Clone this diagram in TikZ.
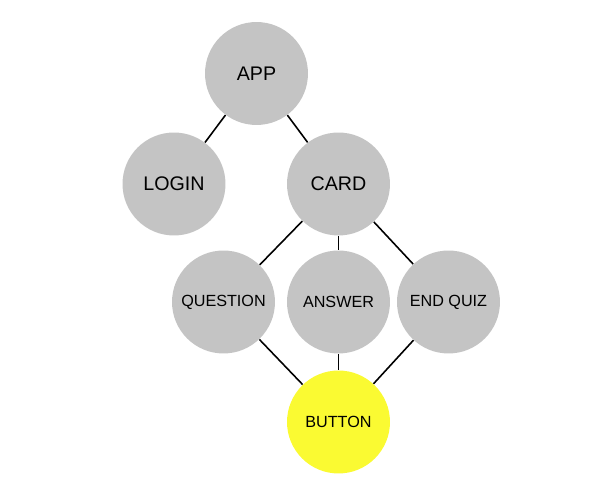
\documentclass[tikz,border=0pt]{standalone}
\usepackage{fontspec}
\setmainfont{Liberation Sans}
\definecolor{nodegray}{RGB}{196,196,196}
\definecolor{btnyellow}{RGB}{250,250,50}
\tikzset{
	comp/.style={circle,fill=nodegray,inner sep=0pt,minimum size=2.06cm,font=\fontsize{11.2}{13}\selectfont},
	subcomp/.style={comp,font=\fontsize{9.2}{11}\selectfont},
	link/.style={line width=0.9pt,black}
}
\begin{document}
\begin{tikzpicture}[x=0.02cm,y=-0.02cm]
	\useasboundingbox (0,0) rectangle (600,500);
	\node[comp] (app) at (256.5,73.5) {APP};
	\node[comp] (login) at (174,184) {LOGIN};
	\node[comp] (card) at (338.5,184) {CARD};
	\node[subcomp] (question) at (223.5,302) {QUESTION};
	\node[subcomp] (answer) at (338.5,302) {ANSWER};
	\node[subcomp] (endquiz) at (448.5,302) {END QUIZ};
	\node[subcomp,fill=btnyellow] (button) at (338.5,422) {BUTTON};
	\draw[link] (app) -- (login);
	\draw[link] (app) -- (card);
	\draw[link] (card) -- (question);
	\draw[link] (card) -- (answer);
	\draw[link] (card) -- (endquiz);
	\draw[link] (question) -- (button);
	\draw[link] (answer) -- (button);
	\draw[link] (endquiz) -- (button);
\end{tikzpicture}
\end{document}
